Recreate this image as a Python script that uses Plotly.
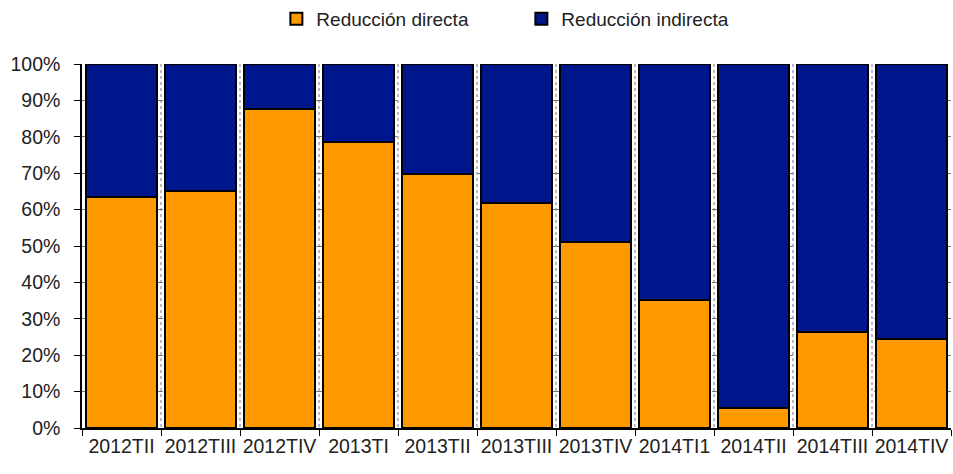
import plotly.graph_objects as go

quarters = ["2012TII", "2012TIII", "2012TIV", "2013TI", "2013TII", "2013TIII",
            "2013TIV", "2014TI1", "2014TII", "2014TIII", "2014TIV"]
# Share of direct reduction (%) per quarter; the indirect share completes 100%
directa = [63.5, 65.2, 87.6, 78.5, 69.8, 61.9, 51.0, 35.2, 5.4, 26.3, 24.4]
indirecta = [round(100 - v, 1) for v in directa]

y_ticks = list(range(0, 101, 10))
y_labels = [f"{t}%" for t in y_ticks]

fig = go.Figure()
fig.add_trace(go.Bar(
    x=quarters, y=directa, name="Reducción directa",
    marker=dict(color="#FF9900", line=dict(color="black", width=2)),
))
fig.add_trace(go.Bar(
    x=quarters, y=indirecta, name="Reducción indirecta",
    marker=dict(color="#00168C", line=dict(color="black", width=2)),
))

fig.update_layout(
    barmode="stack",
    bargap=0.09,
    width=953, height=474,
    margin=dict(l=82, r=2, t=64, b=46, autoexpand=False),
    paper_bgcolor="white",
    plot_bgcolor="white",
    font=dict(family="Liberation Sans, Arial, sans-serif", color="#222222"),
    legend=dict(
        orientation="h", xref="container", x=0.29, xanchor="left",
        y=1.0, yanchor="top", yref="container",
        font=dict(size=19), itemwidth=30, tracegroupgap=0,
        traceorder="normal", entrywidthmode="pixels", entrywidth=200,
    ),
    xaxis=dict(
        tickson="boundaries", ticks="outside", ticklen=6, tickcolor="black",
        showline=True, linecolor="black", linewidth=1.5,
        showgrid=True, gridcolor="#BBBBBB", griddash="dot", gridwidth=2,
        tickfont=dict(size=19.5), tickangle=0, automargin=False,
        range=[-0.5, 10.5],
    ),
    yaxis=dict(
        range=[0, 100], tickvals=y_ticks, ticktext=y_labels,
        ticks="outside", ticklen=6, tickcolor="black",
        showline=True, linecolor="black", linewidth=1.5,
        showgrid=True, gridcolor="#777777", gridwidth=1, griddash="dash",
        tickfont=dict(size=19.5), zeroline=False, automargin=False,
        ticklabelstandoff=10,
    ),
)

fig.write_html("out.html")
